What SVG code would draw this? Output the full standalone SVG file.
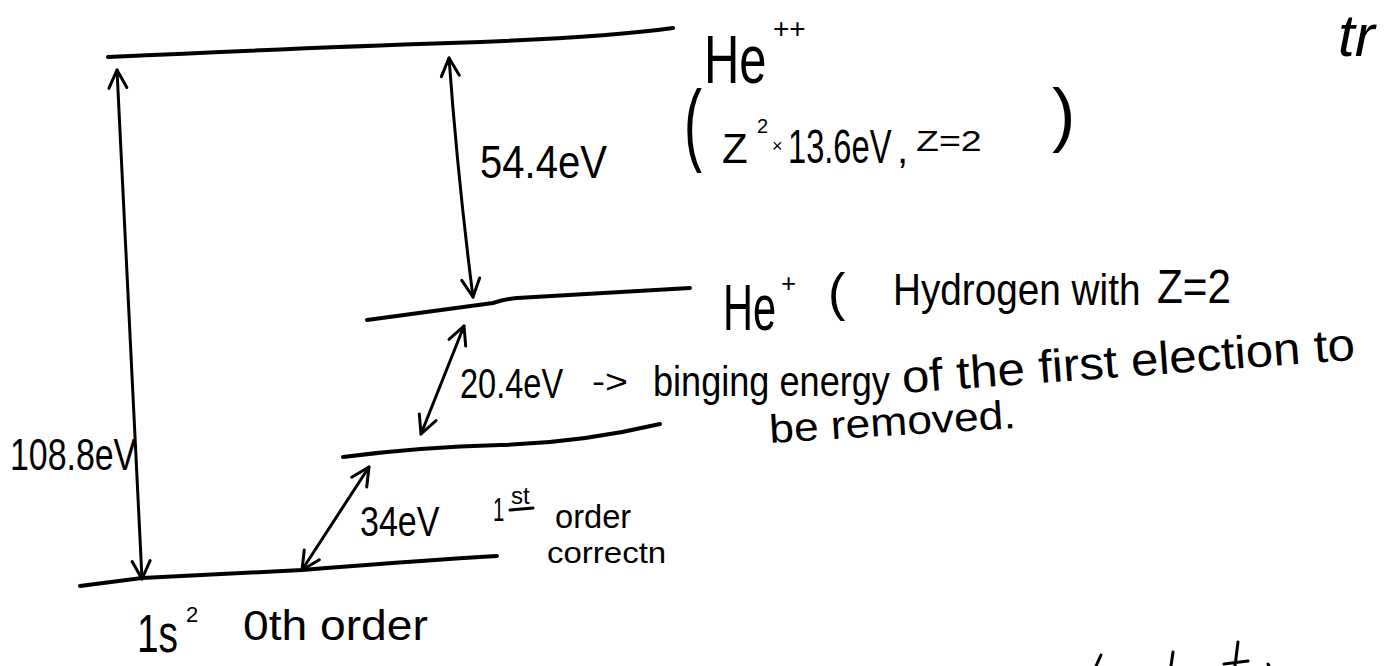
<svg xmlns="http://www.w3.org/2000/svg" width="1397" height="666" viewBox="0 0 1397 666">
<style>
.t{font-family:"Liberation Sans",Arial,sans-serif;fill:#000}
.lvl{fill:none;stroke:#000;stroke-width:4;stroke-linecap:round;stroke-linejoin:round}
.arr{fill:none;stroke:#000;stroke-width:3;stroke-linecap:round;marker-start:url(#ah);marker-end:url(#ah)}
.mk{fill:none;stroke:#000;stroke-width:3;stroke-linecap:round}
</style>
<defs>
<marker id="ah" viewBox="0 0 24 24" refX="21" refY="12" markerWidth="24" markerHeight="24" markerUnits="userSpaceOnUse" orient="auto-start-reverse">
<path d="M3,3 L21,12 L3,21" fill="none" stroke="#000" stroke-width="3" stroke-linecap="round" stroke-linejoin="round"/>
</marker>
</defs>
<rect width="1397" height="666" fill="#fff"/>

<g id="level-he2">
<path class="lvl" d="M108,57 Q300,48 450,43 T673,28"/>
<text class="t" font-size="68" transform="translate(704 83) scale(0.72 1)">He</text>
<text class="t" x="773" y="38" font-size="28">++</text>
<text class="t" font-size="90" transform="translate(684 154) scale(0.6 1)">(</text>
<text class="t" x="722" y="163" font-size="42">Z</text>
<text class="t" x="757" y="133" font-size="20">2</text>
<text class="t" x="772" y="152" font-size="18">×</text>
<text class="t" font-size="48" transform="translate(788 163) scale(0.68 1)">13.6eV</text>
<text class="t" x="897" y="163" font-size="40">,</text>
<text class="t" font-size="30" transform="translate(916 151) scale(1.25 1)">Z=2</text>
<text class="t" x="1052" y="138" font-size="70">)</text>
</g>

<g id="level-he1">
<path class="lvl" d="M367,320 L493,303 Q505,299 517,298 L690,288"/>
<text class="t" font-size="64" transform="translate(723 330) scale(0.65 1)">He</text>
<text class="t" x="781" y="292" font-size="26">+</text>
<text class="t" x="828" y="310" font-size="52">(</text>
<text class="t" font-size="44" transform="translate(893 305) scale(0.88 1)">Hydrogen with</text>
<text class="t" font-size="48" transform="translate(1157 303) scale(0.88 1)">Z=2</text>
</g>

<g id="level-corrected">
<path class="lvl" d="M343,457 Q420,447 500,445 T660,424"/>
<text class="t" font-size="42" transform="translate(460 398) scale(0.775 1)">20.4eV</text>
<text class="t" x="592" y="393" font-size="34" textLength="36" lengthAdjust="spacingAndGlyphs">-&gt;</text>
<text class="t" font-size="42" transform="translate(653 396) scale(0.86 1)">binging energy</text>
<text class="t" font-size="46" transform="rotate(-4.2 903 393) translate(903 393) scale(1.07 1)">of the first election to</text>
<text class="t" font-size="40" transform="rotate(-3.5 770 443) translate(770 443) scale(1.11 1)">be removed.</text>
</g>

<g id="level-ground">
<path class="lvl" d="M80,586 L142,578 Q220,574 302,570 Q400,562 480,557 L497,556"/>
<text class="t" font-size="54" transform="translate(137 652) scale(0.72 1)">1s</text>
<text class="t" x="186" y="622" font-size="22">2</text>
<text class="t" font-size="42" transform="translate(243 640) scale(1.1 1)">0th order</text>
</g>

<g id="connectors">
<path class="arr" d="M117,70 L142,579"/>
<path class="arr" d="M449,58 Q458,180 473,297"/>
<path class="arr" d="M464,326 L421,434"/>
<path class="arr" d="M369,467 L302,570"/>
</g>

<g id="labels">
<text class="t" font-size="46" transform="translate(480 178) scale(0.87 1)">54.4eV</text>
<text class="t" font-size="44" transform="translate(10 470) scale(0.77 1)">108.8eV</text>
<text class="t" font-size="42" transform="translate(360 536) scale(0.81 1)">34eV</text>
<text class="t" font-size="34" transform="translate(493 521) scale(0.6 1)">1</text>
<text class="t" x="511" y="504" font-size="24">st</text>
<path class="mk" d="M510,510 L533,508"/>
<text class="t" font-size="34" transform="translate(555 528) scale(0.96 1)">order</text>
<text class="t" font-size="30" transform="translate(547 563) scale(1.1 1)">correctn</text>
</g>

<g id="fragments">
<text class="t" x="1338" y="56" font-size="60" font-style="italic">tr</text>
<path class="mk" d="M1101,655 L1096,666"/>
<path class="mk" d="M1173,652 L1171,666"/>
<path class="mk" d="M1238,642 L1235,666 M1224,664 L1248,661"/>
<path class="mk" d="M1268,664 L1269,666"/>
</g>
</svg>
